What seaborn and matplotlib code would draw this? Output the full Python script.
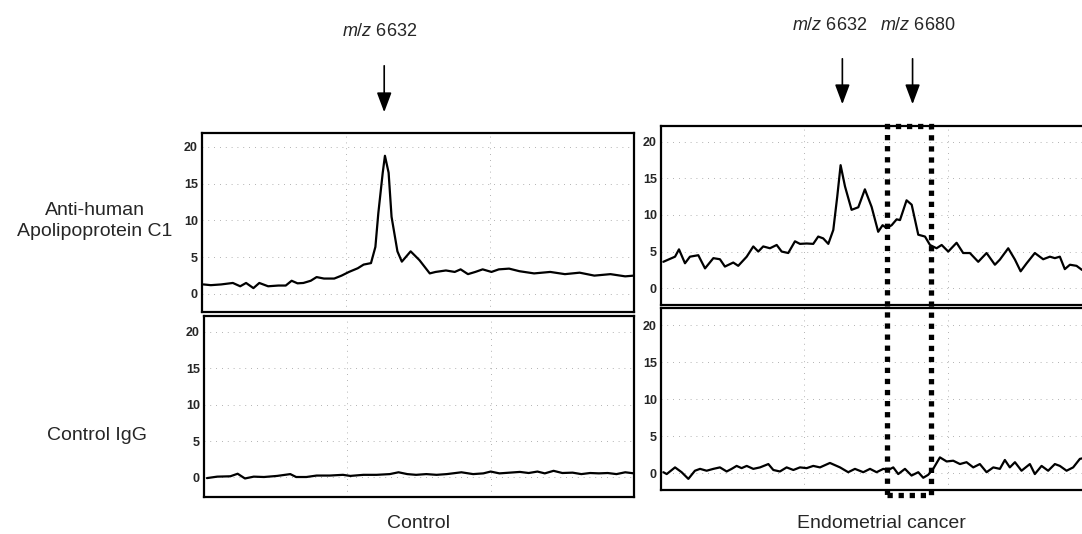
import matplotlib
matplotlib.use("Agg")
import matplotlib.pyplot as plt
import matplotlib.transforms as mtransforms
from matplotlib.patches import Rectangle
import pandas as pd
import seaborn as sns

# spectra: m/z and intensity
apo_ctrl_mz = [6509, 6514, 6521, 6529, 6534, 6538, 6543, 6547, 6553, 6560, 6565, 6569, 6573, 6577,
               6582, 6586, 6591, 6598, 6603, 6608, 6614, 6618, 6623, 6626, 6628, 6631, 6632.5, 6635,
               6637, 6641, 6644, 6650, 6656, 6663, 6667, 6674, 6680, 6684, 6689, 6694, 6699, 6705,
               6710, 6717, 6724, 6734, 6745, 6755, 6765, 6775, 6786, 6796, 6802]
apo_ctrl_int = [1.3, 1.2, 1.3, 1.5, 1.05, 1.5, 0.8, 1.5, 1.05, 1.15, 1.15, 1.8, 1.45, 1.5,
                1.8, 2.3, 2.1, 2.1, 2.5, 3.0, 3.5, 4.0, 4.2, 6.4, 11.0, 16.5, 18.8, 16.5,
                10.5, 5.8, 4.4, 5.8, 4.6, 2.8, 3.0, 3.2, 3.0, 3.35, 2.7, 3.0, 3.35, 3.0,
                3.35, 3.45, 3.1, 2.8, 3.0, 2.7, 2.9, 2.5, 2.7, 2.4, 2.5]

apo_canc_mz = [6509.6, 6513, 6517.6, 6520.3, 6524.4, 6527.8, 6533.5, 6538.1, 6543.8, 6548.3,
               6551.7, 6557.4, 6560.8, 6566.6, 6571.1, 6574.5, 6577.9, 6582.5, 6587.1, 6590.5,
               6595, 6599.6, 6603, 6607.6, 6612.1, 6615.5, 6618.9, 6622.4, 6625.8, 6628.5,
               6630.8, 6633.8, 6638.3, 6642.9, 6647.4, 6652, 6656.5, 6659.5, 6662.3, 6665.7,
               6669.1, 6671.4, 6675.9, 6679.4, 6683.9, 6688.5, 6691.9, 6696.4, 6699.9, 6704.4,
               6710.1, 6714.6, 6719.2, 6724.9, 6730.6, 6736.3, 6739.7, 6745.4, 6750, 6753.9,
               6758, 6763.6, 6769.3, 6773.9, 6777.3, 6780.7, 6784.1, 6787.6, 6792.1, 6795.8, 6803]
apo_canc_int = [3.6, 3.9, 4.3, 5.3, 3.4, 4.3, 4.5, 2.7, 4.1, 3.95,
                2.95, 3.5, 3.05, 4.3, 5.7, 5.0, 5.7, 5.45, 5.9, 5.0,
                4.8, 6.4, 6.05, 6.1, 6.05, 7.05, 6.8, 6.05, 7.95, 12.5,
                16.8, 13.9, 10.7, 11.05, 13.5, 11.1, 7.7, 8.6, 8.2, 8.6,
                9.4, 9.3, 12.0, 11.4, 7.3, 7.05, 5.9, 5.45, 5.9, 5.0,
                6.2, 4.8, 4.8, 3.6, 4.8, 3.2, 3.9, 5.45, 3.9, 2.3,
                3.4, 4.8, 3.95, 4.3, 4.1, 4.3, 2.6, 3.2, 3.05, 2.5, 2.4]

igg_ctrl_mz = [6510, 6517, 6526, 6531, 6536, 6542, 6549, 6558, 6567, 6571, 6578, 6585, 6594, 6603,
               6608, 6617, 6626, 6635, 6641, 6647, 6653, 6660, 6667, 6674, 6684, 6692, 6699, 6704,
               6710, 6717, 6724, 6730, 6736, 6741, 6747, 6753, 6760, 6766, 6772, 6778, 6784, 6790,
               6796, 6802]
igg_ctrl_int = [-0.1, 0.1, 0.15, 0.5, -0.15, 0.1, 0.05, 0.2, 0.45, 0.05, 0.05, 0.25, 0.25, 0.35,
                0.2, 0.35, 0.35, 0.45, 0.7, 0.45, 0.35, 0.45, 0.35, 0.45, 0.7, 0.45, 0.55, 0.8,
                0.55, 0.65, 0.75, 0.6, 0.8, 0.55, 0.9, 0.6, 0.65, 0.45, 0.6, 0.55, 0.6, 0.45,
                0.7, 0.55]

igg_canc_mz = [6509.6, 6511.9, 6517.6, 6522.1, 6526.7, 6531.2, 6534.7, 6539.2, 6543.8, 6548.3,
               6552.9, 6556.3, 6559.7, 6563.1, 6566.6, 6571.1, 6575.7, 6581.4, 6584.8, 6589.3,
               6593.9, 6598.5, 6603, 6607.6, 6612.1, 6616.7, 6623.5, 6630.4, 6636, 6640.6,
               6646.3, 6650.9, 6655.4, 6660, 6663.4, 6666.8, 6670.2, 6674.8, 6679.3, 6683.9,
               6687.3, 6690.7, 6694.1, 6698.7, 6703.3, 6707.8, 6712.4, 6716.9, 6721.5, 6726,
               6730.6, 6735.2, 6739.7, 6743.1, 6746.5, 6750, 6754.5, 6760.2, 6763.6, 6768.2,
               6772.7, 6777.3, 6780.7, 6785.3, 6789.8, 6794.4, 6803]
igg_canc_int = [0.15, -0.1, 0.8, 0.15, -0.75, 0.35, 0.6, 0.35, 0.6, 0.8,
                0.25, 0.6, 1.0, 0.7, 1.0, 0.6, 0.8, 1.25, 0.45, 0.25,
                0.8, 0.45, 0.8, 0.7, 1.0, 0.8, 1.4, 0.8, 0.15, 0.6,
                0.15, 0.6, 0.15, 0.6, 0.45, 0.8, -0.1, 0.6, -0.3, 0.15,
                -0.6, -0.2, 0.6, 2.15, 1.6, 1.7, 1.25, 1.5, 0.8, 1.25,
                0.15, 0.8, 0.6, 1.8, 0.8, 1.5, 0.35, 1.25, -0.1, 1.0,
                0.35, 1.25, 1.0, 0.35, 0.8, 1.95, 2.3]

y_ticks = [0, 5, 10, 15, 20]
grid_mz = [6606, 6704]
peak_labels = ["6632", "6680"]
row_labels = ["Anti-human\nApolipoprotein C1", "Control IgG"]
col_labels = ["Control", "Endometrial cancer"]

W, H = 1082, 534
XLIM = (6508, 6802)


def box(x0, y0, x1, y1):
    # pixel box (top-left origin) -> figure fraction rect
    return [x0 / W, 1 - y1 / H, (x1 - x0) / W, (y1 - y0) / H]


sns.set_style("white")
plt.rcParams["font.family"] = ["Liberation Sans", "DejaVu Sans"]
plt.rcParams["mathtext.fontset"] = "custom"
plt.rcParams["mathtext.it"] = "Liberation Sans:italic"
plt.rcParams["mathtext.rm"] = "Liberation Sans"

fig = plt.figure(figsize=(W / 100, H / 100), dpi=100)

panels = [
    (apo_ctrl_mz, apo_ctrl_int, box(202, 133, 634, 312), (-2.45, 21.9)),
    (apo_canc_mz, apo_canc_int, box(661, 126, 1091, 305), (-2.3, 22.15)),
    (igg_ctrl_mz, igg_ctrl_int, box(204, 316, 634, 497), (-2.7, 22.2)),
    (igg_canc_mz, igg_canc_int, box(661, 308, 1091, 490), (-2.25, 22.3)),
]

axes = []
for mz, val, rect, ylim in panels:
    ax = fig.add_axes(rect)
    df = pd.DataFrame({"mz": mz, "intensity": val})
    sns.lineplot(data=df, x="mz", y="intensity", ax=ax, color="black", lw=1.6,
                 solid_joinstyle="round")
    ax.set_xlim(XLIM)
    ax.set_ylim(ylim)
    ax.set_xticks(grid_mz)
    ax.set_xticklabels([])
    ax.set_yticks(y_ticks)
    ax.set_yticklabels([str(t) for t in y_ticks], fontweight="bold")
    ax.tick_params(length=0, labelsize=9, pad=3)
    ax.set_xlabel("")
    ax.set_ylabel("")
    ax.grid(True, color="0.6", linestyle=(0, (1, 6)), lw=0.6)
    for s in ax.spines.values():
        s.set_color("black")
        s.set_linewidth(1.6)
    axes.append(ax)

# arrows marking the peaks
arrow_kw = dict(arrowstyle="-|>,head_length=0.8,head_width=0.3", color="black",
                lw=1.2, mutation_scale=15)
tr_left = mtransforms.blended_transform_factory(axes[0].transData, fig.transFigure)
tr_right = mtransforms.blended_transform_factory(axes[1].transData, fig.transFigure)
axes[0].annotate("", xy=(6632, 1 - 115 / H), xytext=(6632, 1 - 63 / H),
                 xycoords=tr_left, textcoords=tr_left, arrowprops=arrow_kw)
for m in [6632, 6680]:
    axes[1].annotate("", xy=(m, 1 - 107 / H), xytext=(m, 1 - 56 / H),
                     xycoords=tr_right, textcoords=tr_right, arrowprops=arrow_kw)

fig.text(380 / W, 1 - 32 / H, r"$m/z$ " + peak_labels[0], ha="center", va="center", fontsize=13)
fig.text(830 / W, 1 - 25 / H, r"$m/z$ " + peak_labels[0], ha="center", va="center", fontsize=13)
fig.text(918 / W, 1 - 25 / H, r"$m/z$ " + peak_labels[1], ha="center", va="center", fontsize=13)

# dotted box around m/z 6680 spanning both cancer panels
rect = Rectangle((6662.5, 1 - 495 / H), 30.1, (495 - 126) / H, transform=tr_right,
                 fill=False, edgecolor="black", lw=3.8, linestyle=(0, (1, 1.1)), clip_on=False)
fig.add_artist(rect)

fig.text(95 / W, 1 - 221 / H, row_labels[0], ha="center", va="center", fontsize=14,
         linespacing=1.25)
fig.text(97 / W, 1 - 435 / H, row_labels[1], ha="center", va="center", fontsize=14)
fig.text(419 / W, 1 - 523 / H, col_labels[0], ha="center", va="center", fontsize=14)
fig.text(881 / W, 1 - 523 / H, col_labels[1], ha="center", va="center", fontsize=14)

fig.savefig("out.png", dpi=100)
